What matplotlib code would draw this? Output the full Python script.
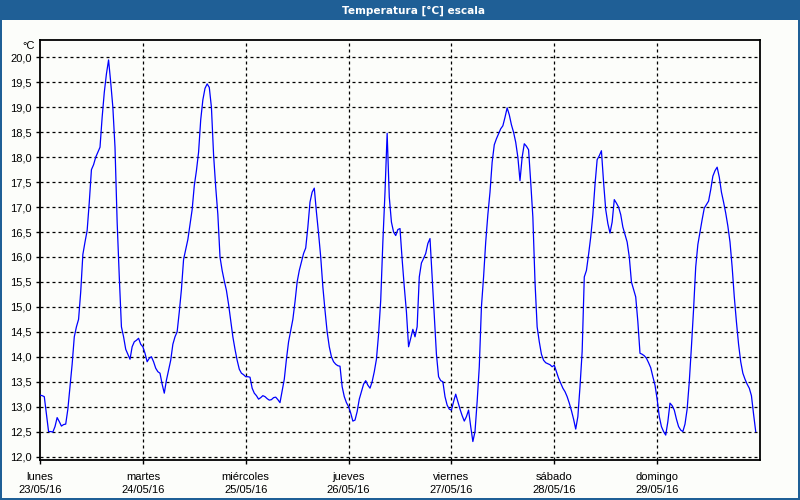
import matplotlib
matplotlib.use("Agg")
import matplotlib.pyplot as plt
from matplotlib.patches import Rectangle
import numpy as np

title = "Temperatura [°C] escala"
unit = "°C"
day_names = ["lunes", "martes", "miércoles", "jueves", "viernes", "sábado", "domingo"]
day_dates = ["23/05/16", "24/05/16", "25/05/16", "26/05/16", "27/05/16", "28/05/16", "29/05/16"]

# half-hourly readings per day (°C)
lunes = [13.23, 13.22, 13.2, 12.85, 12.5, 12.5, 12.49, 12.6, 12.78, 12.7, 12.61, 12.64,
         12.65, 12.95, 13.4, 13.85, 14.4, 14.6, 14.75, 15.3, 16.05, 16.3, 16.53, 17.1,
         17.75, 17.85, 18.0, 18.1, 18.2, 18.8, 19.3, 19.67, 19.95, 19.5, 19.0, 18.2,
         16.7, 15.6, 14.6, 14.4, 14.15, 14.05, 13.95, 14.2, 14.3, 14.33, 14.37, 14.25]
martes = [14.2, 14.07, 13.9, 13.97, 14.0, 13.9, 13.77, 13.7, 13.67, 13.45, 13.27, 13.53,
          13.73, 13.93, 14.25, 14.4, 14.5, 14.9, 15.35, 15.95, 16.15, 16.35, 16.65, 16.95,
          17.43, 17.73, 18.1, 18.75, 19.15, 19.38, 19.47, 19.4, 19.0, 18.05, 17.4, 16.85,
          16.0, 15.73, 15.52, 15.33, 15.05, 14.72, 14.4, 14.15, 13.93, 13.75, 13.67, 13.64]
miercoles = [13.6, 13.6, 13.59, 13.37, 13.27, 13.22, 13.15, 13.18, 13.22, 13.2, 13.16, 13.13,
             13.14, 13.18, 13.19, 13.14, 13.08, 13.32, 13.55, 13.95, 14.3, 14.52, 14.75, 15.1,
             15.5, 15.73, 15.9, 16.07, 16.18, 16.6, 17.1, 17.3, 17.38, 16.9, 16.47, 16.0,
             15.4, 14.93, 14.5, 14.2, 14.0, 13.9, 13.85, 13.82, 13.81, 13.4, 13.2, 13.08]
jueves = [13.0, 12.87, 12.71, 12.73, 12.9, 13.15, 13.3, 13.45, 13.52, 13.43, 13.37, 13.5,
          13.7, 13.95, 14.45, 15.13, 16.3, 17.3, 18.48, 17.2, 16.7, 16.5, 16.43, 16.55,
          16.57, 15.95, 15.4, 14.9, 14.2, 14.37, 14.55, 14.4, 14.6, 15.6, 15.88, 15.97,
          16.07, 16.27, 16.37, 15.6, 14.8, 14.05, 13.6, 13.52, 13.5, 13.2, 13.03, 12.95]
viernes = [12.93, 13.1, 13.25, 13.1, 12.95, 12.82, 12.71, 12.8, 12.93, 12.6, 12.3, 12.5,
           13.1, 13.8, 15.0, 15.6, 16.3, 16.85, 17.3, 17.9, 18.25, 18.37, 18.47, 18.57,
           18.63, 18.8, 18.99, 18.85, 18.65, 18.5, 18.3, 18.0, 17.53, 18.0, 18.27, 18.22,
           18.15, 17.5, 16.8, 15.5, 14.6, 14.3, 14.05, 13.93, 13.88, 13.86, 13.84, 13.8]
sabado = [13.83, 13.7, 13.57, 13.47, 13.37, 13.3, 13.2, 13.07, 12.92, 12.75, 12.55, 12.8,
          13.4, 14.1, 15.6, 15.73, 16.05, 16.4, 16.85, 17.45, 17.95, 18.03, 18.13, 17.5,
          16.95, 16.67, 16.48, 16.7, 17.15, 17.08, 17.0, 16.85, 16.6, 16.45, 16.3, 16.0,
          15.5, 15.35, 15.2, 14.7, 14.07, 14.05, 14.02, 13.97, 13.88, 13.78, 13.6, 13.43]
domingo = [13.15, 12.8, 12.6, 12.5, 12.43, 12.7, 13.07, 13.02, 12.93, 12.75, 12.6, 12.53,
           12.5, 12.65, 12.95, 13.5, 14.2, 14.95, 15.8, 16.25, 16.5, 16.75, 16.98, 17.05,
           17.12, 17.35, 17.62, 17.73, 17.8, 17.6, 17.3, 17.1, 16.88, 16.62, 16.3, 15.8,
           15.2, 14.7, 14.25, 13.9, 13.67, 13.55, 13.45, 13.37, 13.22, 12.85, 12.5]

days = [lunes, martes, miercoles, jueves, viernes, sabado, domingo]
temps = np.concatenate([np.array(d) for d in days])
hours = np.arange(len(temps)) * 0.5

W, H = 800, 500
bg = "#fcfdfa"
bar_blue = "#1f5f96"

fig = plt.figure(figsize=(W / 100, H / 100), dpi=100, facecolor=bg)
plt.rcParams["font.family"] = ["Liberation Sans", "DejaVu Sans"]

# title band and window border
fig.patches.append(Rectangle((0, 1 - 20 / H), 1, 20 / H, transform=fig.transFigure,
                             facecolor=bar_blue, edgecolor="none", zorder=0))
for (x0, y0, w, h) in [(0, 0, 2 / W, 1), (1 - 2 / W, 0, 2 / W, 1), (0, 0, 1, 2 / H)]:
    fig.patches.append(Rectangle((x0, y0), w, h, transform=fig.transFigure,
                                 facecolor=bar_blue, edgecolor="none", zorder=0))
fig.text(413 / W, 1 - 10.5 / H, title, color="white", fontsize=7.6, fontweight="bold",
         ha="center", va="center", family=["DejaVu Sans"])

ax = fig.add_axes([40 / W, 1 - 460 / H, 720 / W, 420 / H])
ax.set_facecolor(bg)
ax.plot(hours, temps, color="#0000ff", lw=0.9, zorder=3)

ax.set_xlim(0, 168)
ax.set_ylim(11.93, 20.35)

yt = np.arange(12.0, 20.01, 0.5)
ax.set_yticks(yt)
ax.set_yticklabels([f"{v:.1f}".replace(".", ",") for v in yt])
xt = np.arange(0, 168, 24)
ax.set_xticks(xt)
ax.set_xticklabels([f"{n}\n{d}" for n, d in zip(day_names, day_dates)])

ax.tick_params(axis="both", direction="out", length=3, width=1, color="black",
               labelsize=8, labelcolor="black")
ax.tick_params(axis="y", pad=3)
ax.tick_params(axis="x", pad=6)
for lbl in ax.get_xticklabels():
    lbl.set_linespacing(1.3)

dash = (0, (2.4, 2.4))
for v in yt:
    ax.axhline(v, color="black", lw=0.9, linestyle=dash, zorder=1)
for v in xt[1:]:
    ax.axvline(v, color="black", lw=0.9, linestyle=dash, zorder=1)

for s in ax.spines.values():
    s.set_linewidth(1.3)
    s.set_color("black")

fig.text(35 / W, 1 - 46 / H, unit, fontsize=8, ha="right", va="center")

fig.savefig("out.png", dpi=100, facecolor=bg)
